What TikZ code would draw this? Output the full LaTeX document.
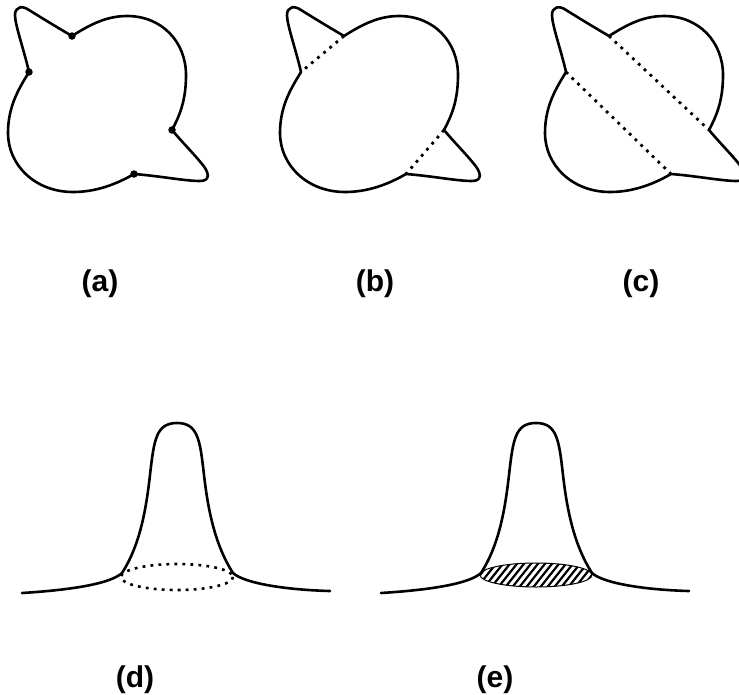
\documentclass[tikz,border=0pt]{standalone}
\usepackage{fontspec}
\setmainfont{Liberation Sans}
\begin{document}
\begin{tikzpicture}[x=1pt,y=-1pt,
  curve/.style={line width=2.6pt,line join=round,line cap=round},
  dotline/.style={line width=2.8pt,dash pattern=on 2.8pt off 5.2pt},
  dotm/.style={circle,fill=black,inner sep=0pt,minimum size=7.5pt},
  lab/.style={font=\fontsize{30}{32}\selectfont\bfseries,anchor=base,inner sep=0pt},
  blob/.pic={
    \coordinate (-A) at (72,36);
    \coordinate (-B) at (172,130);
    \coordinate (-C) at (134,174);
    \coordinate (-D) at (29,72);
    \draw[curve] (72,36) .. controls (88,26) and (105,16) .. (127,16)
      .. controls (162,16) and (186,42) .. (186,75)
      .. controls (186,100) and (180,115) .. (172,130)
      .. controls (182,142) and (194,154) .. (202,164)
      .. controls (209,172) and (211,181) .. (200,181)
      .. controls (185,181) and (160,176) .. (134,174)
      .. controls (115,185) and (95,192) .. (73,192)
      .. controls (35,192) and (8,165) .. (8,133)
      .. controls (8,105) and (20,87) .. (29,72)
      .. controls (24,50) and (15,25) .. (15,15)
      .. controls (15,7) and (22,5) .. (29,10)
      .. controls (45,20) and (60,29) .. (72,36) -- cycle;
  },
  bump/.pic={
    \coordinate (-L) at (122,573);
    \coordinate (-R) at (233,573);
    \draw[curve] (22,593) .. controls (70,590) and (110,584) .. (122,573)
      .. controls (140,545) and (146,510) .. (150,475)
      .. controls (154,440) and (156,423) .. (177,423)
      .. controls (198,423) and (200,440) .. (204,475)
      .. controls (208,510) and (215,545) .. (233,573)
      .. controls (245,584) and (290,590) .. (330,591);
  }]
\useasboundingbox (0,0) rectangle (739,694);
% (a)
\pic (pa) at (0,0) {blob};
\node[dotm] (dA) at (pa-A) {};
\node[dotm] (dB) at (pa-B) {};
\node[dotm] (dC) at (pa-C) {};
\node[dotm] (dD) at (pa-D) {};
% (b)
\pic (pb) at (272,0) {blob};
\draw[dotline] (pb-A) -- (pb-D);
\draw[dotline] (pb-B) -- (pb-C);
% (c)
\pic (pc) at (537,0) {blob};
\draw[dotline] (pc-A) -- (pc-B);
\draw[dotline] (pc-D) -- (pc-C);
% labels
\node[lab] (la) at (100,291) {(a)};
\node[lab] (lb) at (375,291) {(b)};
\node[lab] (lc) at (641,291) {(c)};
\node[lab] (ld) at (135,687) {(d)};
\node[lab] (le) at (495,687) {(e)};
% (d)
\pic (pd) at (0,0) {bump};
\draw[dotline,line width=2.6pt] (177,577) ellipse [x radius=56,y radius=13];
% (e)
\pic (pe) at (359,0) {bump};
\begin{scope}
  \clip (536,575) ellipse [x radius=56,y radius=12];
  \foreach \i in {-20,...,20} {
    \draw[line width=2.2pt] (536+7*\i-20,600) -- (536+7*\i+20,550);
  }
\end{scope}
\draw[line width=1pt] (536,575) ellipse [x radius=56,y radius=12];
\end{tikzpicture}
\end{document}
